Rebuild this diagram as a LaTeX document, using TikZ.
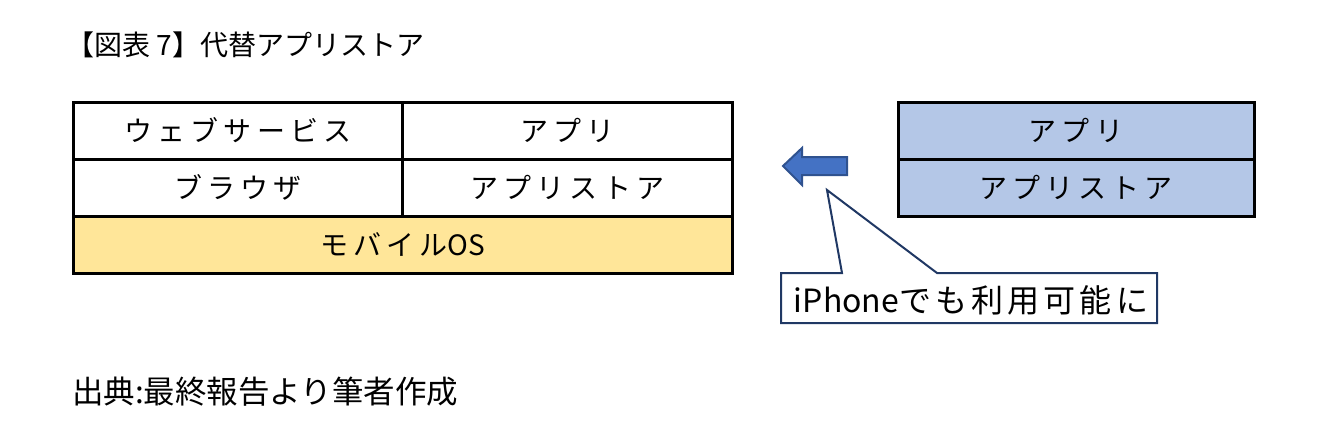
\documentclass[tikz,border=0pt]{standalone}
\usepackage{fontspec}
\setmainfont{Noto Sans CJK JP}
\newfontfamily\boxfont[LetterSpace=18]{Noto Sans CJK JP}
\newfontfamily\callfont[LetterSpace=13]{Noto Sans CJK JP}
\newfontfamily\latfont{Noto Sans CJK JP}
\begin{document}
\begin{tikzpicture}[x=1pt,y=-1pt,
  cell/.style={draw=black, line width=3pt, minimum height=57pt, inner sep=0pt,
    font=\boxfont\fontsize{28}{30}\selectfont},
  leftcell/.style={cell, minimum width=330pt, fill=white},
  oscell/.style={cell, minimum width=659pt, fill=osyellow},
  rightcell/.style={cell, minimum width=356pt, fill=appblue},
  plain/.style={inner sep=0pt, anchor=west},
]
\definecolor{osyellow}{HTML}{FFE699}
\definecolor{appblue}{HTML}{B4C7E7}
\definecolor{arrowfill}{HTML}{4472C4}
\definecolor{arrowline}{HTML}{2F528F}
\definecolor{callline}{HTML}{203864}
\useasboundingbox (0,0) rectangle (1324,439);

\node[plain, font=\fontsize{28}{30}\selectfont] (title) at (66,45) {【図表 7】代替アプリストア};

\node[leftcell] (web) at (238,130.5) {ウェブサービス};
\node[leftcell] (app) at (567.5,130.5) {アプリ};
\node[leftcell] (browser) at (238,187.5) {ブラウザ};
\node[leftcell] (store) at (567.5,187.5) {アプリストア};
\node[oscell] (os) at (402.5,244.5) {モバイル{\latfont OS}};

\node[rightcell] (rapp) at (1076,130.5) {アプリ};
\node[rightcell] (rstore) at (1076,187.5) {アプリストア};

\draw[fill=arrowfill, draw=arrowline, line width=2pt, line join=miter]
  (783,166) -- (802,148) -- (802,157) -- (847,157) -- (847,175) -- (802,175) -- (802,185) -- cycle;

\coordinate (cNW) at (781,273);
\coordinate (cSE) at (1157,323);
\coordinate (tip) at (827,190);
\draw[fill=white, draw=callline, line width=2pt, line join=miter]
  (cNW) -- (842,273) -- (tip) -- (937,273) -- (cSE |- cNW) -- (cSE) -- (cNW |- cSE) -- cycle;
\node[inner sep=0pt, font=\callfont\fontsize{32}{34}\selectfont] (note) at (971,300) {{\latfont iPhone}でも利用可能に};

\node[plain, font=\fontsize{31.5}{33}\selectfont] (source) at (72,392) {出典:最終報告より筆者作成};
\end{tikzpicture}
\end{document}
